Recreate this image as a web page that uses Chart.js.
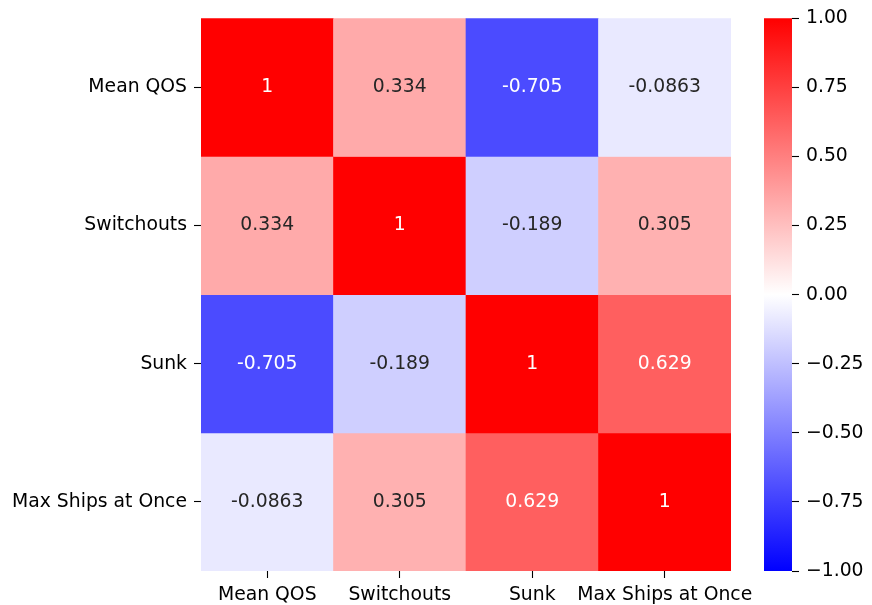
<!DOCTYPE html>
<html>
<head>
<meta charset="utf-8">
<script src="https://cdn.jsdelivr.net/npm/chart.js@4.4.0/dist/chart.umd.min.js"></script>
<title>Correlation heatmap</title>
<style>
  body { margin: 0; background: #fff; }
  #wrap { position: relative; width: 872px; height: 605px; }
  #wrap canvas { position: absolute; left: 0; top: 0; }
</style>
</head>
<body>
<div id="wrap">
  <canvas id="heat" width="872" height="605"></canvas>
  <canvas id="cbar" width="872" height="605"></canvas>
</div>
<script>
// correlation matrix
const labels = ["Mean QOS", "Switchouts", "Sunk", "Max Ships at Once"];
const rowMeanQOS = [1, 0.334, -0.705, -0.0863];
const rowSwitchouts = [0.334, 1, -0.189, 0.305];
const rowSunk = [-0.705, -0.189, 1, 0.629];
const rowMaxShips = [-0.0863, 0.305, 0.629, 1];
const rows = [rowMeanQOS, rowSwitchouts, rowSunk, rowMaxShips];
const cbarTicks = [-1, -0.75, -0.5, -0.25, 0, 0.25, 0.5, 0.75, 1];

const FONT = "'DejaVu Sans', sans-serif";
const FSIZE = 18.8;

// matplotlib bwr colormap, vmin -1, vmax 1
function bwr(v) {
  const t = (v + 1) / 2;
  let r, g, b;
  if (t < 0.5) { r = g = 2 * t; b = 1; }
  else { r = 1; g = b = 2 * (1 - t); }
  return [Math.round(r * 255), Math.round(g * 255), Math.round(b * 255)];
}
function rgb(c) { return 'rgb(' + c.join(',') + ')'; }
function fmt(v) { return String(Number(v.toPrecision(3))); }
// relative luminance, same rule seaborn uses to pick the annotation colour
function luminance(c) {
  const lin = c.map(x => {
    x = x / 255;
    return x <= 0.03928 ? x / 12.92 : Math.pow((x + 0.055) / 1.055, 2.4);
  });
  return 0.2126 * lin[0] + 0.7152 * lin[1] + 0.0722 * lin[2];
}

const n = labels.length;
const datasets = rows.map((row, i) => {
  const lo = n - 1 - i;
  return {
    data: row.map(() => [lo, lo + 1]),
    backgroundColor: row.map(v => rgb(bwr(v))),
    borderWidth: 0,
    grouped: false,
    barPercentage: 1,
    categoryPercentage: 1
  };
});

const annotate = {
  id: 'annotate',
  afterDatasetsDraw(chart) {
    const ctx = chart.ctx;
    ctx.save();
    ctx.font = FSIZE + 'px ' + FONT;
    ctx.textAlign = 'center';
    ctx.textBaseline = 'middle';
    rows.forEach((row, i) => {
      const meta = chart.getDatasetMeta(i);
      row.forEach((v, j) => {
        const el = meta.data[j];
        ctx.fillStyle = luminance(bwr(v)) < 0.408 ? '#ffffff' : '#262626';
        ctx.fillText(fmt(v), el.x, (el.y + el.base) / 2);
      });
    });
    ctx.restore();
  }
};

new Chart(document.getElementById('heat'), {
  type: 'bar',
  data: { labels: labels, datasets: datasets },
  options: {
    responsive: false,
    animation: false,
    layout: { padding: { top: 16, right: 141, left: 0, bottom: 0 } },
    plugins: { legend: { display: false }, tooltip: { enabled: false } },
    scales: {
      x: {
        type: 'category',
        grid: { offset: false, drawOnChartArea: false, tickLength: 7, tickWidth: 1.1, tickColor: '#000' },
        border: { display: false },
        ticks: { color: '#000', font: { family: FONT, size: FSIZE }, padding: 6, maxRotation: 0, autoSkip: false },
        afterFit(s) { s.height = 34; }
      },
      y: {
        type: 'linear',
        min: 0,
        max: n,
        afterBuildTicks(s) { s.ticks = labels.map((l, i) => ({ value: n - 0.5 - i })); },
        grid: { drawOnChartArea: false, tickLength: 7, tickWidth: 1.1, tickColor: '#000' },
        border: { display: false },
        ticks: {
          color: '#000',
          font: { family: FONT, size: FSIZE },
          padding: 7,
          callback: v => labels[Math.round(n - 0.5 - v)]
        },
        afterFit(s) { s.width = 201; }
      }
    }
  },
  plugins: [annotate]
});

// colorbar
new Chart(document.getElementById('cbar'), {
  type: 'bar',
  data: {
    labels: [''],
    datasets: [{
      data: [[-1, 1]],
      borderWidth: 0,
      barPercentage: 1,
      categoryPercentage: 1,
      backgroundColor(context) {
        const area = context.chart.chartArea;
        if (!area) return 'white';
        const g = context.chart.ctx.createLinearGradient(0, area.bottom, 0, area.top);
        g.addColorStop(0, 'rgb(0,0,255)');
        g.addColorStop(0.5, 'rgb(255,255,255)');
        g.addColorStop(1, 'rgb(255,0,0)');
        return g;
      }
    }]
  },
  options: {
    responsive: false,
    animation: false,
    layout: { padding: { top: 16, left: 764, right: 0, bottom: 34 } },
    plugins: { legend: { display: false }, tooltip: { enabled: false } },
    scales: {
      x: { display: false },
      y: {
        position: 'right',
        min: -1,
        max: 1,
        afterBuildTicks(s) { s.ticks = cbarTicks.map(v => ({ value: v })); },
        grid: { drawOnChartArea: false, tickLength: 7, tickWidth: 1.1, tickColor: '#000' },
        border: { display: false },
        ticks: {
          color: '#000',
          font: { family: FONT, size: FSIZE },
          padding: 7,
          callback: v => (v < 0 ? '\u2212' : '') + Math.abs(v).toFixed(2)
        },
        afterFit(s) { s.width = 80; }
      }
    }
  }
});
</script>
</body>
</html>
